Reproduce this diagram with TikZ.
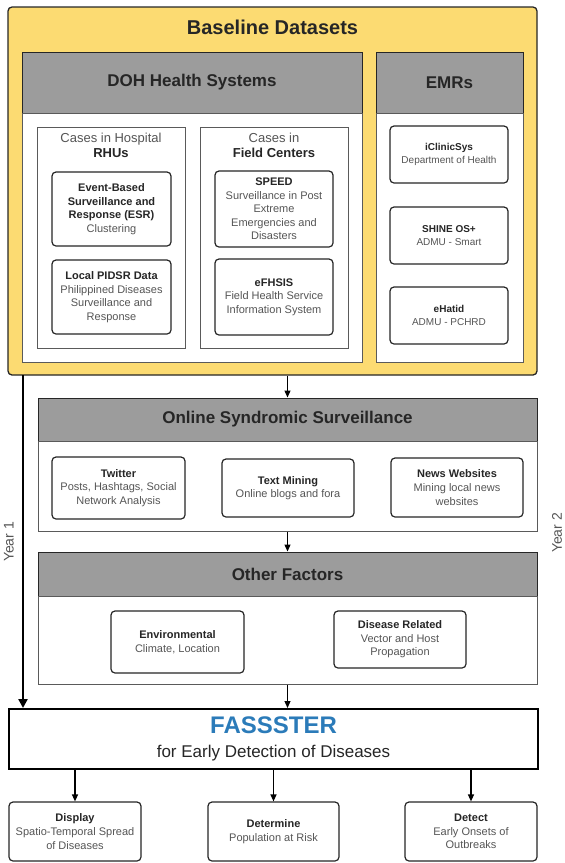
\documentclass[tikz,border=0pt]{standalone}
\usepackage{fontspec}
\setmainfont{Liberation Sans}
\usetikzlibrary{arrows.meta}
\definecolor{goldfill}{HTML}{FCDB72}
\definecolor{headgray}{HTML}{9C9C9C}
\definecolor{inkdark}{HTML}{262626}
\definecolor{inkgray}{HTML}{555555}
\definecolor{rimgray}{HTML}{5A5A5A}
\definecolor{fassblue}{HTML}{2B7BB9}
\newcommand{\hb}[1]{\textbf{\color{inkdark}#1}}
\begin{document}
\begin{tikzpicture}[x=1pt, y=-1pt,
  sz/.style 2 args={minimum width=#1pt, minimum height=#2pt, inner sep=0pt},
  golden/.style={draw=inkdark, fill=goldfill, line width=1.3pt, rounded corners=4pt},
  header/.style={draw=inkdark, fill=headgray, line width=1pt,
    font=\fontsize{17}{20}\selectfont\bfseries, text=inkdark},
  panel/.style={draw=rimgray, fill=white, line width=1pt},
  group/.style={draw=rimgray, fill=white, line width=0.8pt},
  item/.style={draw=inkdark, fill=white, line width=1.2pt, rounded corners=4pt,
    align=center, font=\fontsize{11}{13.6}\selectfont, text=inkgray},
  itemsm/.style={item, font=\fontsize{10}{13.4}\selectfont},
  grouptitle/.style={align=center, font=\fontsize{13}{15}\selectfont, text=inkgray, inner sep=0pt},
  yearlbl/.style={rotate=90, font=\fontsize{14}{16}\selectfont, text=inkgray},
  arr/.style={draw=black, line width=1.2pt, -{Triangle[length=7pt,width=6pt]}},
  yeararr/.style={draw=black, line width=2.6pt, -{Triangle[length=9pt,width=9pt]}}
]
\useasboundingbox (0,0) rectangle (565,863);

% ---------------- Baseline datasets ----------------
\node[golden, sz={529}{368}] (baseline) at (272.5,191) {};
\node[font=\fontsize{20}{24}\selectfont\bfseries, text=inkdark] (basetitle) at (272.5,27) {Baseline Datasets};

\node[header, sz={340}{61}] (dohhead) at (192,82.5) {DOH Health Systems};
\node[panel, sz={340}{249}] (dohpanel) at (192,237.5) {};
\node[header, sz={147}{61}] (emrhead) at (449.5,82.5) {EMRs};
\node[panel, sz={147}{249}] (emrpanel) at (449.5,237.5) {};

\node[group, sz={148}{221}] (hosp) at (111,237.5) {};
\node[grouptitle] (hosptitle) at (111,145.5) {Cases in Hospital\\\hb{RHUs}};
\node[group, sz={148}{221}] (field) at (274,237.5) {};
\node[grouptitle] (fieldtitle) at (274,145.5) {Cases in\\\hb{Field Centers}};

\node[item, sz={119}{74}] (esr) at (111.5,209)
  {\hb{Event-Based}\\\hb{Surveillance and}\\\hb{Response (ESR)}\\Clustering};
\node[item, sz={119}{74}] (pidsr) at (111.5,297)
  {\hb{Local PIDSR Data}\\Philippined Diseases\\Surveillance and\\Response};
\node[item, sz={118}{76}] (speed) at (274,209)
  {\hb{SPEED}\\Surveillance in Post\\Extreme\\Emergencies and\\Disasters};
\node[item, sz={118}{76}] (efhsis) at (274,297)
  {\hb{eFHSIS}\\Field Health Service\\Information System};

\node[itemsm, sz={118}{57}] (iclinic) at (449,154.5) {\hb{iClinicSys}\\Department of Health};
\node[itemsm, sz={118}{57}] (shine) at (449,235.5) {\hb{SHINE OS+}\\ADMU - Smart};
\node[itemsm, sz={118}{57}] (ehatid) at (449,315.5) {\hb{eHatid}\\ADMU - PCHRD};

% ---------------- Online syndromic surveillance ----------------
\node[header, sz={499}{43}] (onlinehead) at (287.5,419.5) {Online Syndromic Surveillance};
\node[panel, sz={499}{90}] (onlinepanel) at (287.5,486) {};
\node[item, sz={133}{62}] (twitter) at (118.5,488)
  {\hb{Twitter}\\Posts, Hashtags, Social\\Network Analysis};
\node[item, sz={132}{58}] (textmining) at (288,488)
  {\hb{Text Mining}\\Online blogs and fora};
\node[item, sz={132}{59}] (news) at (457,487.5)
  {\hb{News Websites}\\Mining local news\\websites};

% ---------------- Other factors ----------------
\node[header, sz={499}{44}] (otherhead) at (287.5,574) {Other Factors};
\node[panel, sz={499}{88}] (otherpanel) at (287.5,640) {};
\node[item, sz={133}{62}] (environ) at (177.5,642)
  {\hb{Environmental}\\Climate, Location};
\node[item, sz={132}{57}] (disease) at (400,639.5)
  {\hb{Disease Related}\\Vector and Host\\Propagation};

% ---------------- FASSSTER and its outputs ----------------
\node[draw=black, fill=white, line width=2pt, sz={529}{60}] (fassster) at (273.5,739) {};
\node[font=\fontsize{24}{28}\selectfont\bfseries, text=fassblue, inner sep=0pt] (fassname) at (273.5,725) {FASSSTER};
\node[font=\fontsize{17}{20}\selectfont, text=inkdark, inner sep=0pt] (fasssub) at (273.5,753) {for Early Detection of Diseases};

\node[item, sz={132}{59}] (display) at (75,831.5)
  {\hb{Display}\\Spatio-Temporal Spread\\of Diseases};
\node[item, sz={131}{59}] (determine) at (273.5,831.5)
  {\hb{Determine}\\Population at Risk};
\node[item, sz={132}{59}] (detect) at (471,831.5)
  {\hb{Detect}\\Early Onsets of\\Outbreaks};

% ---------------- Year labels ----------------
\node[yearlbl] (year1) at (9,542) {Year 1};
\node[yearlbl] (year2) at (557,533) {Year 2};

% ---------------- Connectors ----------------
\coordinate (y1start) at (23,375);
\draw[yeararr] (y1start) -- (y1start |- fassster.north);
\draw[arr] (baseline.south -| onlinehead.north) -- (onlinehead.north);
\draw[arr] (onlinepanel.south) -- (otherhead.north);
\draw[arr] (otherpanel.south) -- (otherpanel.south |- fassster.north);
\draw[arr] (fassster.south -| display.north) -- (display.north);
\draw[arr] (fassster.south -| determine.north) -- (determine.north);
\draw[arr] (fassster.south -| detect.north) -- (detect.north);
\end{tikzpicture}
\end{document}
